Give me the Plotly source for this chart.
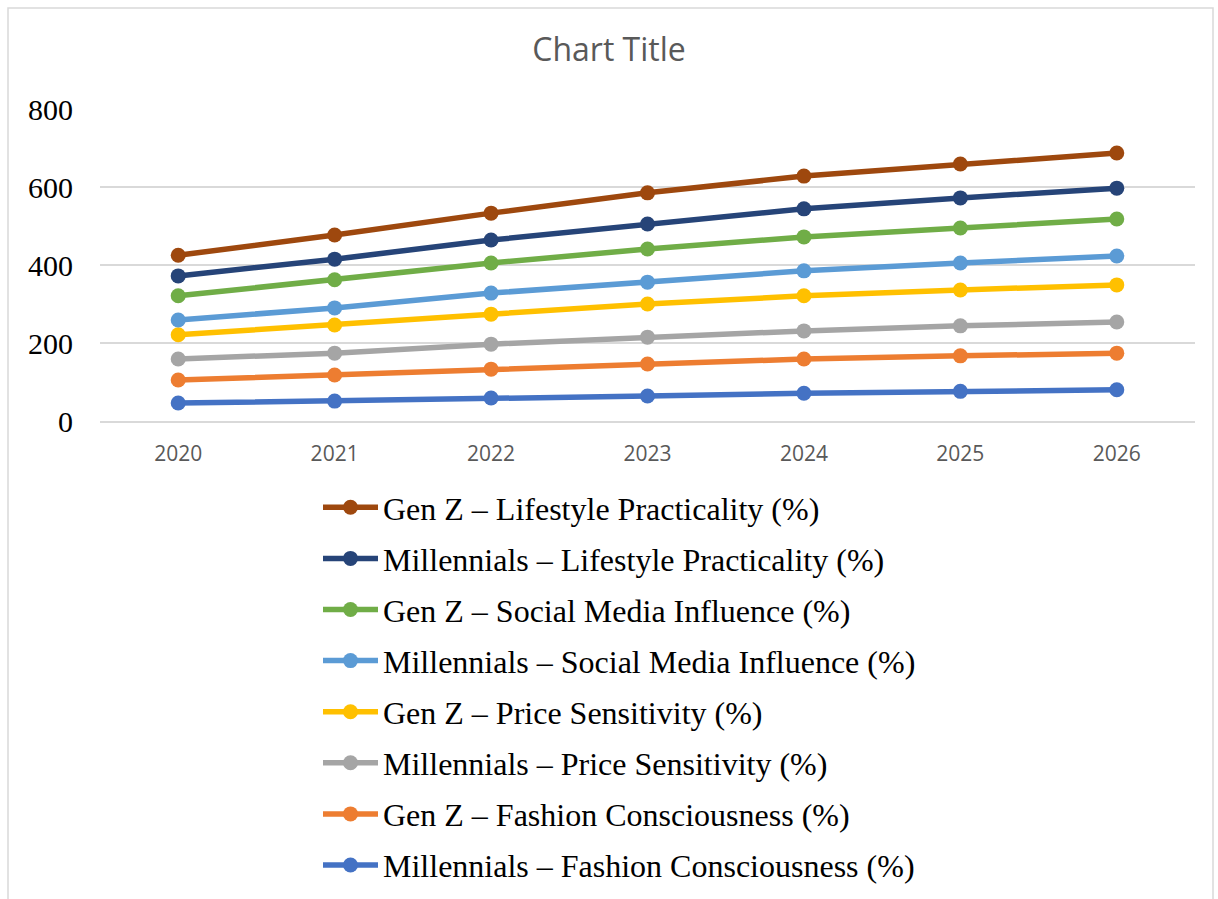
import plotly.graph_objects as go

years = ["2020", "2021", "2022", "2023", "2024", "2025", "2026"]

mil_fashion = [46, 51, 59, 64, 71, 76, 80]
genz_fashion = [59, 67, 74, 82, 88, 91, 94]
mil_price = [54, 56, 64, 69, 72, 77, 80]
genz_price = [62, 72, 77, 85, 90, 92, 95]
mil_social = [38, 44, 54, 56, 64, 69, 74]
genz_social = [62, 72, 77, 85, 87, 90, 95]
mil_lifestyle = [51, 53, 59, 64, 72, 77, 79]
genz_lifestyle = [53, 62, 69, 80, 84, 87, 90]

series = [
    ("Millennials – Fashion Consciousness (%)", mil_fashion, "#4472C4"),
    ("Gen Z – Fashion Consciousness (%)", genz_fashion, "#ED7D31"),
    ("Millennials – Price Sensitivity (%)", mil_price, "#A5A5A5"),
    ("Gen Z – Price Sensitivity (%)", genz_price, "#FFC000"),
    ("Millennials – Social Media Influence (%)", mil_social, "#5B9BD5"),
    ("Gen Z – Social Media Influence (%)", genz_social, "#70AD47"),
    ("Millennials – Lifestyle Practicality (%)", mil_lifestyle, "#264478"),
    ("Gen Z – Lifestyle Practicality (%)", genz_lifestyle, "#9E480E"),
]

fig = go.Figure()
n = len(series)
for i, (name, vals, col) in enumerate(series):
    fig.add_trace(go.Scatter(
        x=years, y=vals, name=name, mode="lines+markers",
        stackgroup="one", fill="none", legendgroup=f"g{i}",
        legendrank=n - i,
        line=dict(color=col, width=5.5),
        marker=dict(color=col, size=15),
    ))

W, H = 1218, 899
L, R, T, B = 100, 1195, 109, 421


def px(x):
    return (x - L) / (R - L)


def py(y):
    return (B - y) / (B - T)


fig.update_layout(
    width=W, height=H,
    margin=dict(l=L, r=W - R, t=T, b=H - B, autoexpand=False),
    paper_bgcolor="white", plot_bgcolor="white",
    title=dict(text="Chart Title", x=0.5, xanchor="center", y=1 - 50 / H, yanchor="middle",
               font=dict(family="Open Sans", size=32, color="#595959")),
    xaxis=dict(type="category", range=[-0.5, 6.5], showgrid=False, zeroline=False,
               showline=True, linecolor="#D9D9D9", linewidth=1.5,
               tickfont=dict(family="Open Sans", size=21, color="#595959"),
               ticklabelstandoff=13),
    yaxis=dict(range=[0, 800], tickvals=[0, 200, 400, 600, 800], showgrid=True,
               gridcolor="#D9D9D9", gridwidth=1.5, zeroline=False, showline=False,
               tickfont=dict(family="Liberation Serif", size=30, color="black"),
               ticklabelstandoff=26),
    showlegend=True,
    legend=dict(x=px(318), xanchor="left", y=py(480), yanchor="top",
                traceorder="grouped", tracegroupgap=6.5, itemwidth=55,
                font=dict(family="Liberation Serif", size=32, color="black"),
                bgcolor="rgba(0,0,0,0)"),
    shapes=[dict(type="rect", xref="paper", yref="paper",
                 x0=px(8), x1=px(1213), y0=py(905), y1=py(8),
                 line=dict(color="#D9D9D9", width=1.5), fillcolor="rgba(0,0,0,0)")],
)

fig.write_html("out.html")
